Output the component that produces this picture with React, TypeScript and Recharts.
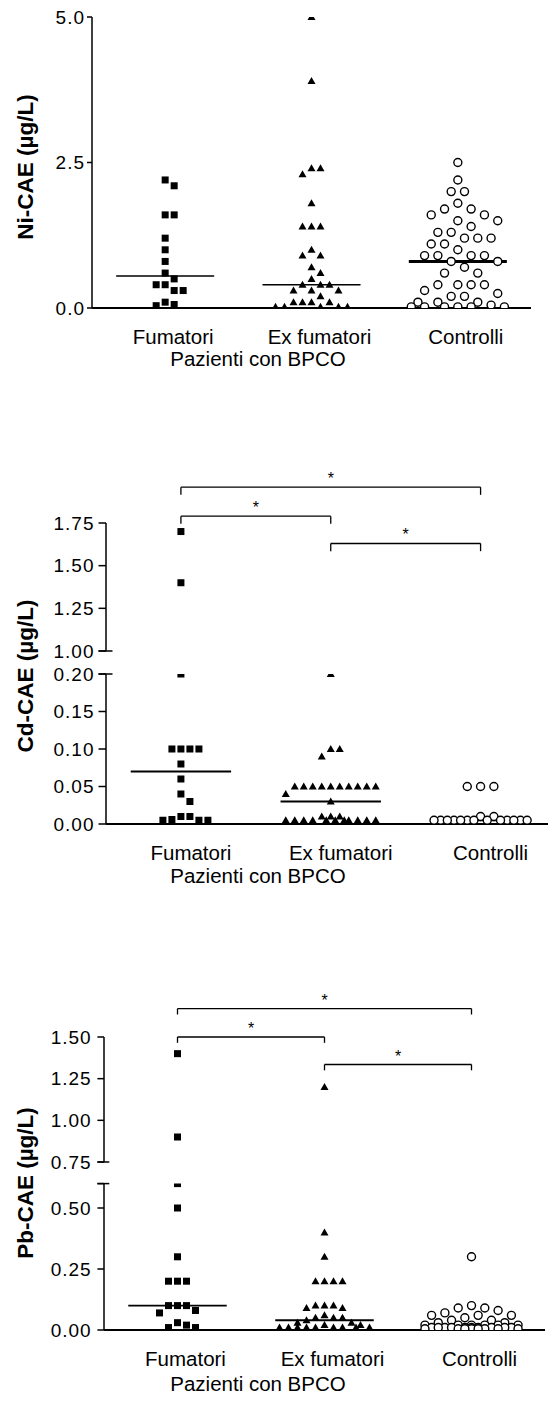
import React from "react";
import { ReferenceLine, Scatter, ScatterChart, XAxis, YAxis } from "recharts";

const FONT = "'Liberation Sans', Arial, Helvetica, sans-serif";
const W = 551;

const groups = ["Fumatori", "Ex fumatori", "Controlli"];
const groupCaption = "Pazienti con BPCO";

// Ni-CAE (µg/L)
const niFumatori = [2.2, 2.1, 1.6, 1.6, 1.2, 1.0, 0.8, 0.6, 0.5, 0.4, 0.4, 0.3, 0.3, 0.1, 0.06, 0.04];
const niExFumatori = [
  5.0, 3.9, 2.4, 2.4, 2.3, 1.8, 1.4, 1.4, 1.4, 1.0, 0.9, 0.9, 0.7, 0.6, 0.5, 0.4, 0.4, 0.4,
  0.3, 0.3, 0.3, 0.2, 0.1, 0.1, 0.1, 0.1, 0.02, 0.02, 0.02, 0.02, 0.02
];
const niControlli = [
  2.5, 2.2, 2.0, 2.0, 1.8, 1.7, 1.7, 1.6, 1.6, 1.5, 1.5, 1.4, 1.3, 1.3, 1.2, 1.2, 1.2, 1.1,
  1.1, 1.0, 0.9, 0.9, 0.9, 0.9, 0.8, 0.8, 0.7, 0.6, 0.6, 0.4, 0.4, 0.4, 0.4, 0.3, 0.25, 0.2,
  0.2, 0.1, 0.1, 0.1, 0.05, 0.02, 0.02, 0.02, 0.02, 0.02, 0.02
];
const niMedians = [0.55, 0.4, 0.8];
const niTicks = [0, 2.5, 5];

// Cd-CAE (µg/L)
const cdFumatori = [1.7, 1.4, 0.2, 0.1, 0.1, 0.1, 0.1, 0.08, 0.06, 0.04, 0.03, 0.01, 0.01, 0.006, 0.005, 0.005, 0.005];
const cdExFumatori = [
  0.2, 0.1, 0.1, 0.09, 0.05, 0.05, 0.05, 0.05, 0.05, 0.05, 0.05, 0.05, 0.05, 0.05, 0.04, 0.03,
  0.01, 0.01, 0.01, 0.005, 0.005, 0.005, 0.005, 0.005, 0.005, 0.005, 0.005, 0.005, 0.005, 0.005
];
const cdControlli = [
  0.05, 0.05, 0.05, 0.01, 0.01, 0.005, 0.005, 0.005, 0.005, 0.005, 0.005, 0.005, 0.005, 0.005,
  0.005, 0.005, 0.005, 0.005
];
const cdMedians = [0.07, 0.03, 0.005];
const cdLowTicks = [0, 0.05, 0.1, 0.15, 0.2];
const cdHighTicks = [1, 1.25, 1.5, 1.75];
const cdBrackets = [
  { from: 1, to: 3, level: 1.96 },
  { from: 1, to: 2, level: 1.79 },
  { from: 2, to: 3, level: 1.63 }
];

// Pb-CAE (µg/L)
const pbFumatori = [1.4, 0.9, 0.6, 0.5, 0.3, 0.2, 0.2, 0.2, 0.1, 0.1, 0.1, 0.08, 0.07, 0.03, 0.02, 0.01, 0.01];
const pbExFumatori = [
  1.2, 0.4, 0.3, 0.2, 0.2, 0.2, 0.2, 0.1, 0.1, 0.1, 0.09, 0.09, 0.06, 0.05, 0.05, 0.05, 0.04,
  0.03, 0.03, 0.02, 0.02, 0.01, 0.01, 0.01, 0.01, 0.01, 0.01, 0.01, 0.01, 0.01
];
const pbControlli = [
  0.3, 0.1, 0.09, 0.09, 0.08, 0.07, 0.06, 0.06, 0.06, 0.05, 0.04, 0.04, 0.03, 0.03, 0.02, 0.02,
  0.02, 0.02, 0.02, 0.02, 0.01, 0.01, 0.01, 0.01, 0.01, 0.01, 0.01, 0.01, 0.01, 0.01, 0.005,
  0.005, 0.005, 0.005, 0.005, 0.005, 0.005, 0.005
];
const pbMedians = [0.1, 0.04, 0.01];
const pbLowTicks = [0, 0.25, 0.5, 0.6];
const pbHighTicks = [0.75, 1, 1.25, 1.5];
const pbBrackets = [
  { from: 1, to: 3, level: 1.67 },
  { from: 1, to: 2, level: 1.5 },
  { from: 2, to: 3, level: 1.335 }
];

const drawSquare = (p: any) => <rect x={p.cx - 3.5} y={p.cy - 3.5} width={7} height={7} fill="#000" />;
const drawTriangle = (p: any) => (
  <polygon points={`${p.cx},${p.cy - 4} ${p.cx + 4},${p.cy + 3} ${p.cx - 4},${p.cy + 3}`} fill="#000" />
);
const drawCircle = (p: any) => <circle cx={p.cx} cy={p.cy} r={4} fill="#fff" stroke="#000" strokeWidth={1.4} />;

const SYMBOLS = [
  { shape: drawSquare, gap: 9 },
  { shape: drawTriangle, gap: 9 },
  { shape: drawCircle, gap: 13.3 }
];

// simple beeswarm: put each point at the closest free horizontal slot
function swarm(values: number[], yScale: number, xScale: number, gap: number, maxHalf: number) {
  const order = values.map((_, i) => i).sort((a, b) => values[b] - values[a]);
  const placed: { x: number; y: number }[] = [];
  const out = new Array(values.length).fill(0);
  const step = gap / 2;
  const cands = [0];
  for (let k = 1; k * step <= maxHalf; k++) cands.push(k * step, -k * step);
  for (const i of order) {
    const y = values[i] * yScale;
    let best = 0;
    let bestD = -1;
    for (const c of cands) {
      let d = Infinity;
      for (const p of placed) d = Math.min(d, Math.hypot(p.x - c, p.y - y));
      if (d >= gap - 0.01) {
        best = c;
        break;
      }
      if (d > bestD) {
        bestD = d;
        best = c;
      }
    }
    placed.push({ x: best, y });
    out[i] = best / xScale;
  }
  return out;
}

function CategoryTick(props: any) {
  const { x, y, payload, shift } = props;
  return (
    <text x={x + shift} y={y + 29} dy="0.355em" textAnchor="middle" fontSize={20.5} fontFamily={FONT} fill="#000">
      {groups[Math.round(payload.value) - 1]}
    </text>
  );
}

function ValueTick(props: any) {
  const { x, y, payload, digits, breakAt, silentAt, gap, size, over } = props;
  const v = payload.value;
  const same = (a?: number) => a !== undefined && Math.abs(a - v) < 1e-9;
  return (
    <g>
      {!same(silentAt) && (
        <text
          x={x}
          y={y}
          dy="0.355em"
          textAnchor="end"
          fontSize={19}
          letterSpacing={1}
          fontFamily={FONT}
          fill="#000"
        >
          {v.toFixed(digits)}
        </text>
      )}
      {same(breakAt) && (
        <line x1={x + gap} x2={x + gap + size + over} y1={y} y2={y} stroke="#000" strokeWidth={1.5} />
      )}
    </g>
  );
}

interface SegmentProps {
  height: number;
  plotTop: number;
  plotBottom: number;
  left: number;
  right: number;
  xDomain: [number, number];
  yDomain: [number, number];
  yTicks: number[];
  digits: number;
  tickSize: number;
  tickMargin: number;
  breakAt?: number;
  silentAt?: number;
  over?: number;
  sets: number[][];
  medians?: number[];
  medianWidths?: number[];
  brackets?: { from: number; to: number; level: number }[];
  bracketDepth?: number;
  showX?: boolean;
  shift?: number;
  captionDrop?: number;
  title?: string;
  titleY?: number;
}

function Segment(s: SegmentProps) {
  const xAxisH = s.showX ? 60 : 0;
  const plotW = W - s.left - s.right;
  const plotH = s.plotBottom - s.plotTop;
  const yScale = plotH / (s.yDomain[1] - s.yDomain[0]);
  const xScale = plotW / (s.xDomain[1] - s.xDomain[0]);
  const series = s.sets.map((vals, g) => {
    const off = swarm(vals, yScale, xScale, SYMBOLS[g].gap, 48);
    return vals.map((v, i) => ({ x: g + 1 + off[i], y: v }));
  });
  const half = 0.335;
  const depth = s.bracketDepth ?? 0;

  return (
    <ScatterChart
      width={W}
      height={s.height}
      margin={{ top: s.plotTop, right: s.right, bottom: s.height - s.plotBottom - xAxisH, left: 0 }}
    >
      <XAxis
        type="number"
        dataKey="x"
        domain={s.xDomain}
        ticks={[1, 2, 3]}
        interval={0}
        allowDataOverflow
        hide={!s.showX}
        height={xAxisH}
        tickSize={0}
        tickMargin={0}
        tickLine={false}
        axisLine={{ stroke: "#000", strokeWidth: 2 }}
        tick={<CategoryTick shift={s.shift ?? 8} />}
        label={
          s.showX
            ? {
                content: () => (
                  <text
                    x={258}
                    y={s.plotBottom + (s.captionDrop ?? 52)}
                    dy="0.355em"
                    textAnchor="middle"
                    fontSize={20.5}
                    fontFamily={FONT}
                    fill="#000"
                  >
                    {groupCaption}
                  </text>
                )
              }
            : undefined
        }
      />
      <YAxis
        type="number"
        dataKey="y"
        width={s.left}
        domain={s.yDomain}
        ticks={s.yTicks}
        interval={0}
        allowDataOverflow
        tickSize={s.tickSize}
        tickMargin={s.tickMargin}
        axisLine={{ stroke: "#000", strokeWidth: 1.5 }}
        tickLine={{ stroke: "#000", strokeWidth: 1.5 }}
        tick={
          <ValueTick
            digits={s.digits}
            breakAt={s.breakAt}
            silentAt={s.silentAt}
            gap={s.tickMargin}
            size={s.tickSize}
            over={s.over ?? 0}
          />
        }
        label={
          s.title
            ? {
                content: () => (
                  <text
                    transform={`translate(25, ${s.titleY}) rotate(-90)`}
                    dy="0.355em"
                    textAnchor="middle"
                    fontSize={22.5}
                    fontWeight="bold"
                    fontFamily={FONT}
                    fill="#000"
                  >
                    {s.title}
                  </text>
                )
              }
            : undefined
        }
      />
      {series.map((data, g) => (
        <Scatter key={groups[g]} data={data} shape={SYMBOLS[g].shape} isAnimationActive={false} />
      ))}
      {(s.medians ?? []).map((m, g) => (
        <ReferenceLine
          key={`med-${g}`}
          segment={[
            { x: g + 1 - half, y: m },
            { x: g + 1 + half, y: m }
          ]}
          stroke="#000"
          strokeWidth={s.medianWidths ? s.medianWidths[g] : 1.8}
          ifOverflow="visible"
        />
      ))}
      {(s.brackets ?? []).map((b, k) => (
        <ReferenceLine
          key={`br-${k}`}
          segment={[
            { x: b.from, y: b.level },
            { x: b.to, y: b.level }
          ]}
          stroke="#000"
          strokeWidth={1.3}
          ifOverflow="visible"
          label={{ value: "*", position: "top", offset: 3, fontSize: 16, fill: "#000", fontFamily: FONT }}
        />
      ))}
      {(s.brackets ?? []).flatMap((b, k) =>
        [b.from, b.to].map((end, j) => (
          <ReferenceLine
            key={`leg-${k}-${j}`}
            segment={[
              { x: end, y: b.level },
              { x: end, y: b.level - depth }
            ]}
            stroke="#000"
            strokeWidth={1.3}
            ifOverflow="visible"
          />
        ))
      )}
    </ScatterChart>
  );
}

const split = (vals: number[], cut: number, upper: boolean) => vals.filter((v) => (upper ? v > cut : v <= cut));

export default function App() {
  const cdSets = [cdFumatori, cdExFumatori, cdControlli];
  const pbSets = [pbFumatori, pbExFumatori, pbControlli];
  return (
    <div style={{ position: "absolute", left: 0, top: 0, width: W, height: 1405, background: "#fff" }}>
      <div style={{ position: "absolute", left: 0, top: 0 }}>
        <Segment
          height={380}
          plotTop={17}
          plotBottom={308}
          left={92}
          right={20}
          xDomain={[0.5, 3.5]}
          yDomain={[0, 5]}
          yTicks={niTicks}
          digits={1}
          tickSize={5}
          tickMargin={2}
          sets={[niFumatori, niExFumatori, niControlli]}
          medians={niMedians}
          medianWidths={[1.6, 1.6, 3]}
          showX
          shift={8}
          captionDrop={51}
          title="Ni-CAE (µg/L)"
          titleY={167}
        />
      </div>

      <div style={{ position: "absolute", left: 0, top: 440 }}>
        <Segment
          height={460}
          plotTop={234}
          plotBottom={384}
          left={106}
          right={3}
          xDomain={[0.5, 3.45]}
          yDomain={[0, 0.2]}
          yTicks={cdLowTicks}
          digits={2}
          tickSize={7.5}
          tickMargin={4}
          breakAt={0.2}
          over={6.5}
          sets={cdSets.map((v) => split(v, 0.2, false))}
          medians={cdMedians}
          showX
          shift={10}
          title="Cd-CAE (µg/L)"
          titleY={236}
        />
      </div>
      <div style={{ position: "absolute", left: 0, top: 440 }}>
        <Segment
          height={460}
          plotTop={83}
          plotBottom={211}
          left={106}
          right={3}
          xDomain={[0.5, 3.45]}
          yDomain={[1, 1.75]}
          yTicks={cdHighTicks}
          digits={2}
          tickSize={7.5}
          tickMargin={4}
          breakAt={1}
          over={6.5}
          sets={cdSets.map((v) => split(v, 0.2, true))}
          brackets={cdBrackets}
          bracketDepth={0.045}
        />
      </div>

      <div style={{ position: "absolute", left: 0, top: 940 }}>
        <Segment
          height={465}
          plotTop={243.6}
          plotBottom={390}
          left={104}
          right={6}
          xDomain={[0.5, 3.5]}
          yDomain={[0, 0.6]}
          yTicks={pbLowTicks}
          digits={2}
          tickSize={6.6}
          tickMargin={5.7}
          breakAt={0.6}
          silentAt={0.6}
          over={5.3}
          sets={pbSets.map((v) => split(v, 0.6, false))}
          medians={pbMedians}
          showX
          shift={8}
          captionDrop={54}
          title="Pb-CAE (µg/L)"
          titleY={243}
        />
      </div>
      <div style={{ position: "absolute", left: 0, top: 940 }}>
        <Segment
          height={465}
          plotTop={97}
          plotBottom={222}
          left={104}
          right={6}
          xDomain={[0.5, 3.5]}
          yDomain={[0.75, 1.5]}
          yTicks={pbHighTicks}
          digits={2}
          tickSize={6.6}
          tickMargin={5.7}
          breakAt={0.75}
          over={5.3}
          sets={pbSets.map((v) => split(v, 0.6, true))}
          brackets={pbBrackets}
          bracketDepth={0.035}
        />
      </div>
    </div>
  );
}
